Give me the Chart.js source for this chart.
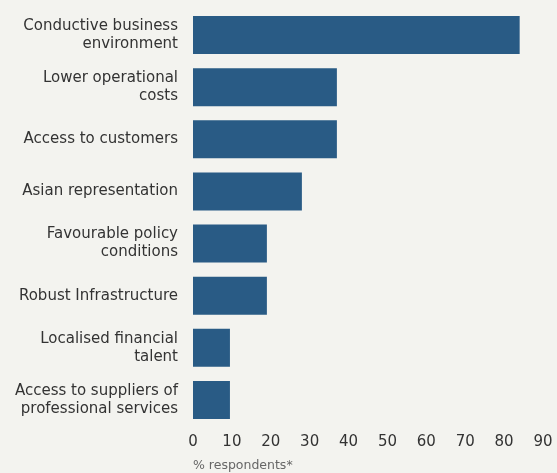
<!DOCTYPE html>
<html>
<head>
<meta charset="utf-8">
<script src="https://cdn.jsdelivr.net/npm/chart.js@4"></script>
<style>
  html, body { margin: 0; padding: 0; background: #f3f3ef; }
  #wrap { width: 557px; height: 473px; }
</style>
</head>
<body>
<div id="wrap"><canvas id="reasonsChart" width="557" height="473"></canvas></div>
<script>
  // reasons given, top to bottom
  var reasons = [
    ["Conductive business", "environment"],
    ["Lower operational", "costs"],
    "Access to customers",
    "Asian representation",
    ["Favourable policy", "conditions"],
    "Robust Infrastructure",
    ["Localised financial", "talent"],
    ["Access to suppliers of", "professional services"]
  ];
  var share = [84, 37, 37, 28, 19, 19, 9.5, 9.5];
  var xTicks = [0, 10, 20, 30, 40, 50, 60, 70, 80, 90];

  var fontFamily = "'DejaVu Sans', sans-serif";
  var ctx = document.getElementById("reasonsChart").getContext("2d");

  new Chart(ctx, {
    type: 'bar',
    data: {
      labels: reasons,
      datasets: [{
        data: share,
        backgroundColor: '#295b85',
        borderWidth: 0,
        categoryPercentage: 0.73,
        barPercentage: 1
      }]
    },
    options: {
      indexAxis: 'y',
      responsive: false,
      animation: false,
      layout: { padding: { top: 9, right: 14, bottom: 0, left: 0 } },
      plugins: { legend: { display: false }, tooltip: { enabled: false } },
      scales: {
        x: {
          min: 0,
          max: 90,
          afterBuildTicks: function (axis) {
            axis.ticks = xTicks.map(v => ({ value: v }));
          },
          afterFit: function (axis) {
            axis.height = 47;
            // let the "90" label hang into the right padding
            axis.paddingLeft = 0;
            axis.paddingRight = 0;
          },
          grid: { display: false, drawTicks: false },
          border: { display: false },
          ticks: { color: '#333', font: { family: fontFamily, size: 15 }, padding: 7 },
          title: {
            display: true,
            text: '% respondents*',
            align: 'start',
            color: '#666',
            font: { family: fontFamily, size: 12.5 },
            padding: { top: 2, bottom: 0 }
          }
        },
        y: {
          grid: { display: false, drawTicks: false },
          border: { display: false },
          afterFit: function (axis) {
            axis.width = 193;
            // two-line labels shouldn't push the plot area down
            axis.paddingTop = 0;
            axis.paddingBottom = 0;
          },
          ticks: {
            color: '#333',
            font: { family: fontFamily, size: 15, lineHeight: 1.2 },
            padding: 15
          }
        }
      }
    }
  });
</script>
</body>
</html>
